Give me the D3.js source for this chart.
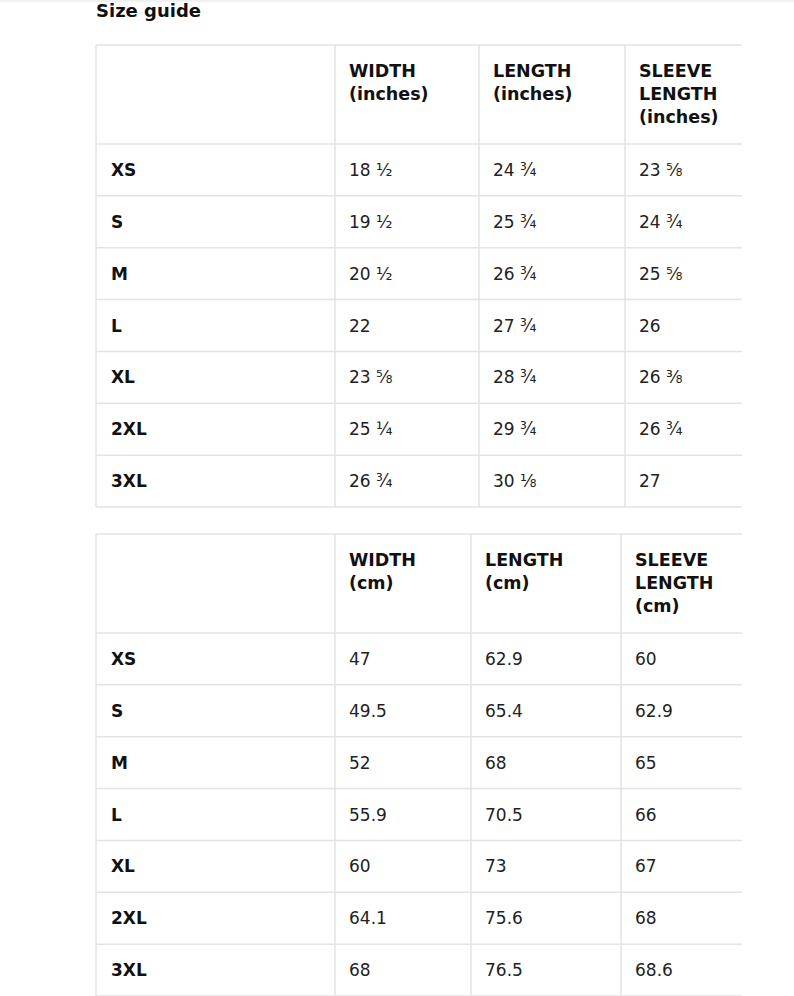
<!DOCTYPE html>
<html><head><meta charset="utf-8">
<script src="https://cdn.jsdelivr.net/npm/d3@7"></script>
<style>body{margin:0;background:#fff}</style></head>
<body><svg id="c" width="794" height="996"></svg>
<script>
const sizes=["XS","S","M","L","XL","2XL","3XL"];
const headersIn=[["WIDTH","(inches)"],["LENGTH","(inches)"],["SLEEVE","LENGTH","(inches)"]];
const widthIn=["18 ½","19 ½","20 ½","22","23 ⅝","25 ¼","26 ¾"];
const lengthIn=["24 ¾","25 ¾","26 ¾","27 ¾","28 ¾","29 ¾","30 ⅛"];
const sleeveIn=["23 ⅝","24 ¾","25 ⅝","26","26 ⅜","26 ¾","27"];
const headersCm=[["WIDTH","(cm)"],["LENGTH","(cm)"],["SLEEVE","LENGTH","(cm)"]];
const widthCm=["47","49.5","52","55.9","60","64.1","68"];
const lengthCm=["62.9","65.4","68","70.5","73","75.6","76.5"];
const sleeveCm=["60","62.9","65","66","67","68","68.6"];

const svg=d3.select("#c");
const font="DejaVu Sans, sans-serif";
const line="#e3e3e3";
svg.append("line").attr("x1",0).attr("x2",794).attr("y1",1).attr("y2",1).attr("stroke",line);
svg.append("text").attr("x",96).attr("y",17).attr("font-family",font).attr("font-weight","bold")
  .attr("font-size",18).attr("fill","#111").text("Size guide");

function table(top,headerBottom,bottom,colX,headers,cols){
  const left=96,right=742;
  const y=d3.scaleBand().domain(sizes).range([headerBottom,bottom]);
  const g=svg.append("g");
  const hl=[top,headerBottom,...sizes.map(s=>y(s)+y.bandwidth())];
  g.selectAll(".h").data(hl).join("line").attr("x1",left).attr("x2",right)
    .attr("y1",d=>d).attr("y2",d=>d).attr("stroke",line).attr("stroke-width",1.5);
  g.selectAll(".v").data([left,...colX]).join("line").attr("x1",d=>d).attr("x2",d=>d)
    .attr("y1",top).attr("y2",bottom).attr("stroke",line).attr("stroke-width",1.5);
  headers.forEach((h,i)=>{
    g.append("text").attr("x",colX[i]+14).attr("y",top+32).attr("font-family",font)
     .attr("font-weight","bold").attr("font-size",17.5).attr("fill","#111")
     .selectAll("tspan").data(h).join("tspan").attr("x",colX[i]+14).attr("dy",(d,j)=>j?23:0).text(d=>d);
  });
  g.selectAll(".lab").data(sizes).join("text").attr("x",111).attr("y",s=>y(s)+y.bandwidth()/2+6)
    .attr("font-family",font).attr("font-weight","bold").attr("font-size",17).attr("fill","#111").text(d=>d);
  cols.forEach((vals,i)=>{
    g.selectAll(".c"+i).data(vals).join("text").attr("x",colX[i]+14)
     .attr("y",(d,k)=>y(sizes[k])+y.bandwidth()/2+6).attr("font-family",font)
     .attr("font-size",17).attr("fill","#222").text(d=>d);
  });
}
table(45,144,507,[335,479,625],headersIn,[widthIn,lengthIn,sleeveIn]);
table(534,633,996,[335,471,621],headersCm,[widthCm,lengthCm,sleeveCm]);
</script></body></html>
